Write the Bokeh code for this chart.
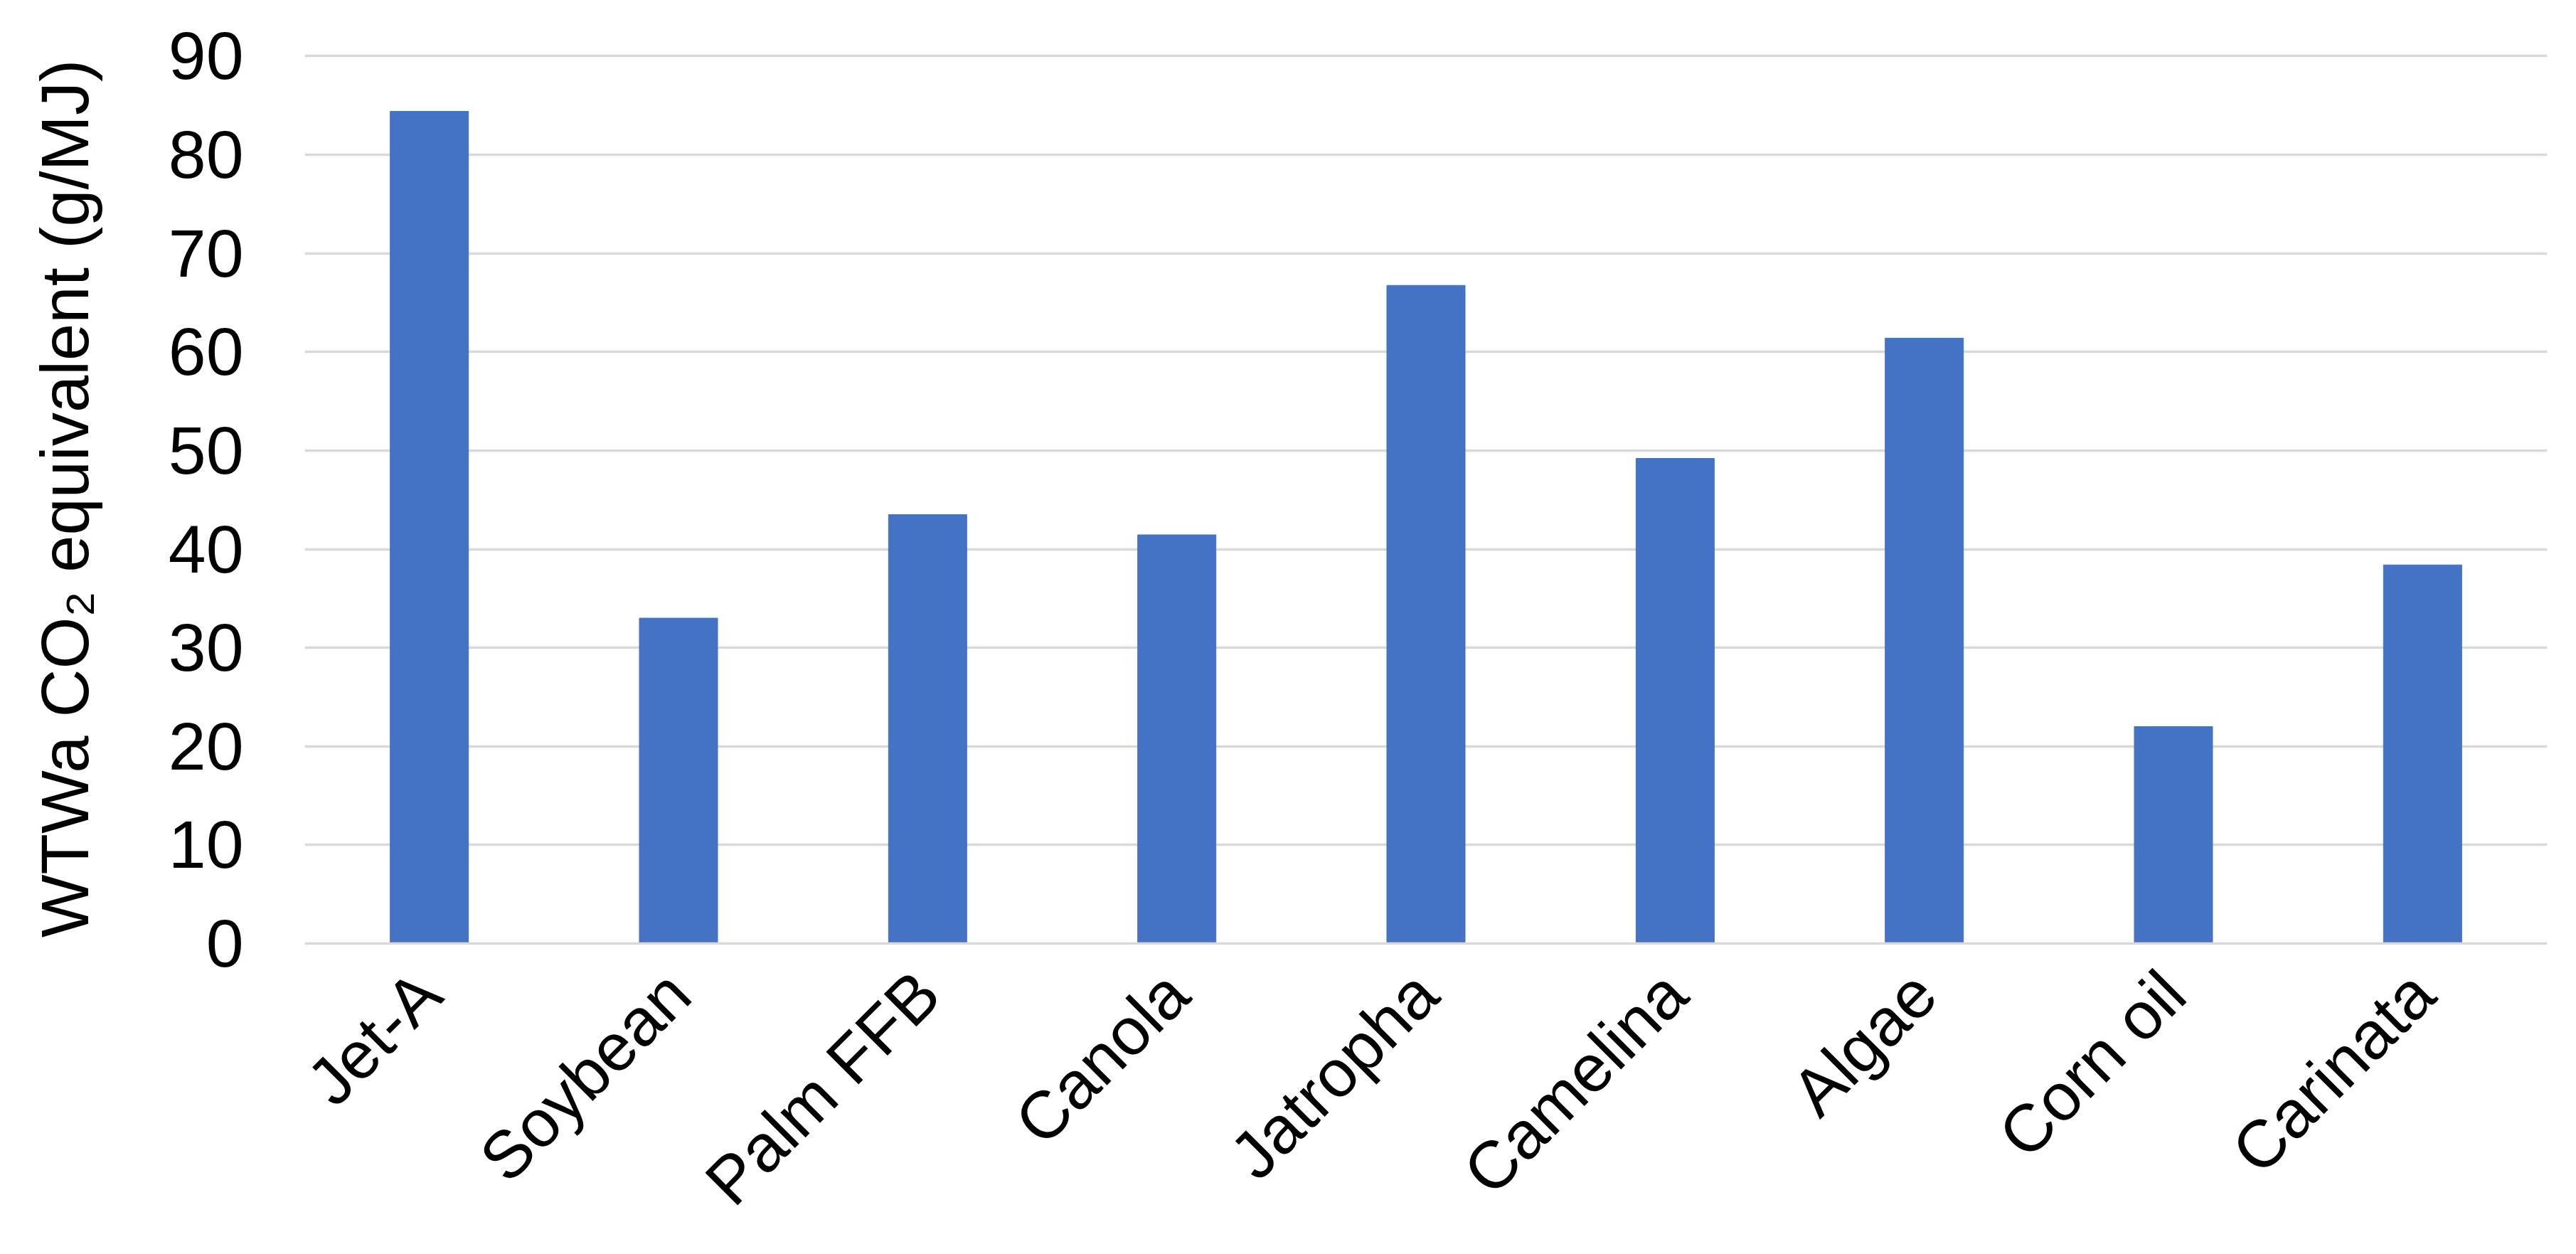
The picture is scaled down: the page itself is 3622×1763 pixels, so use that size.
import math
from bokeh.plotting import figure
from bokeh.models import ColumnDataSource, FactorRange, Range1d, FixedTicker
from bokeh.embed import file_html
from bokeh.resources import INLINE

categories = ["Jet-A", "Soybean", "Palm FFB", "Canola", "Jatropha",
              "Camelina", "Algae", "Corn oil", "Carinata"]
values = [84.4, 33.0, 43.5, 41.45, 66.75, 49.2, 61.4, 22.0, 38.4]
y_ticks = [0, 10, 20, 30, 40, 50, 60, 70, 80, 90]
y_label = "WTWa CO\u2082 equivalent (g/MJ)"

FONT = "Liberation Sans"
BAR = "#4472C4"
GRID = "#d9d9d9"

src = ColumnDataSource(dict(cat=categories, val=values))

p = figure(
    x_range=FactorRange(factors=categories, range_padding=0),
    y_range=Range1d(0, 90.25),
    output_backend="svg", toolbar_location=None,
    frame_width=3153, frame_height=1251,
    min_border_left=428, min_border_right=25,
    min_border_top=75, min_border_bottom=420,
)
p.vbar(x="cat", top="val", width=0.314, source=src,
       fill_color=BAR, line_color=BAR, line_width=1)

p.outline_line_color = None
p.background_fill_color = "white"
p.border_fill_color = "white"

p.xgrid.grid_line_color = None
p.ygrid.grid_line_color = GRID
p.ygrid.grid_line_width = 3.5
p.yaxis.ticker = FixedTicker(ticks=y_ticks)

p.yaxis.axis_line_color = None
p.yaxis.major_tick_line_color = None
p.yaxis.minor_tick_line_color = None
p.yaxis.major_tick_in = 0
p.yaxis.major_tick_out = 0
p.yaxis.major_label_standoff = 86
p.yaxis.major_label_text_font = FONT
p.yaxis.major_label_text_font_size = "95px"
p.yaxis.major_label_text_color = "#000000"
p.yaxis.axis_label = y_label
p.yaxis.axis_label_text_font = FONT
p.yaxis.axis_label_text_font_size = "94px"
p.yaxis.axis_label_text_font_style = "normal"
p.yaxis.axis_label_text_color = "#000000"
p.yaxis.axis_label_standoff = 90

p.xaxis.axis_line_color = GRID
p.xaxis.axis_line_width = 3.5
p.xaxis.major_tick_line_color = None
p.xaxis.minor_tick_line_color = None
p.xaxis.major_tick_in = 0
p.xaxis.major_tick_out = 0
p.xaxis.major_label_orientation = math.pi / 4
p.xaxis.major_label_standoff = 55
p.xaxis.major_label_text_font = FONT
p.xaxis.major_label_text_font_size = "94px"
p.xaxis.major_label_text_color = "#000000"

open("out.html", "w").write(file_html(p, INLINE))
